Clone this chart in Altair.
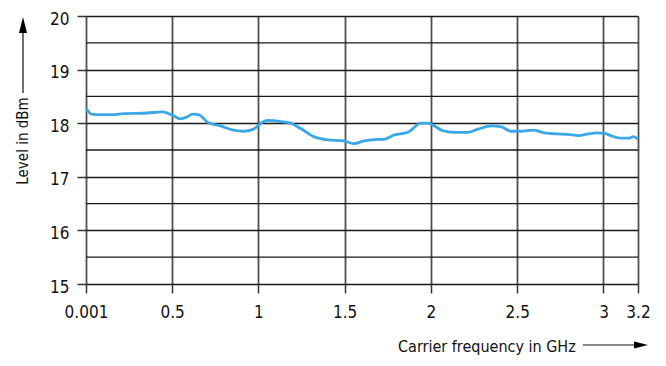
import altair as alt
import pandas as pd

# Measured data (frequency in GHz, level in dBm)
freq = [0.001, 0.034, 0.083, 0.158, 0.216, 0.356, 0.443, 0.501, 0.548, 0.588,
        0.617, 0.652, 0.710, 0.780, 0.856, 0.914, 0.972, 1.024, 1.052, 1.129,
        1.187, 1.245, 1.321, 1.401, 1.495, 1.553, 1.612, 1.691, 1.727, 1.786,
        1.866, 1.943, 1.982, 2.019, 2.069, 2.135, 2.215, 2.273, 2.350, 2.408,
        2.466, 2.524, 2.592, 2.658, 2.728, 2.796, 2.854, 2.912, 2.960, 3.007,
        3.048, 3.106, 3.145, 3.174, 3.200]
level = [18.28, 18.17, 18.16, 18.16, 18.18, 18.19, 18.21, 18.15, 18.08, 18.12,
         18.17, 18.16, 18.01, 17.95, 17.87, 17.85, 17.89, 18.02, 18.05, 18.03,
         18.00, 17.90, 17.75, 17.69, 17.67, 17.62, 17.67, 17.70, 17.70, 17.78,
         17.83, 18.00, 18.00, 17.95, 17.86, 17.83, 17.83, 17.89, 17.95, 17.93,
         17.85, 17.85, 17.87, 17.82, 17.80, 17.79, 17.77, 17.80, 17.82, 17.81,
         17.76, 17.72, 17.72, 17.75, 17.70]

x_ticks = [0.001, 0.5, 1, 1.5, 2, 2.5, 3, 3.2]
y_ticks = [15, 16, 17, 18, 19, 20]
y_half = [15.5, 16.5, 17.5, 18.5, 19.5]

x_title = "Carrier frequency in GHz"
y_title = "Level in dBm"

FONT = "Liberation Sans Narrow, DejaVu Sans Condensed, Arial Narrow, Liberation Sans, sans-serif"

df = pd.DataFrame({"f": freq, "v": level})
xs = alt.Scale(domain=[0.001, 3.2], nice=False, zero=False)
ys = alt.Scale(domain=[15, 20], nice=False, zero=False)

line = alt.Chart(df).mark_line(color="#3aa8e6", strokeWidth=2.8, interpolate="monotone").encode(
    x=alt.X("f:Q", scale=xs, axis=alt.Axis(
        values=x_ticks, title=None, grid=True, gridColor="#505050", gridWidth=1.8,
        tickSize=9, tickColor="#333333", tickWidth=1.5, domain=False,
        labelPadding=11, labelFontSize=17, labelFont=FONT, labelColor="#111111",
        labelExpr="toString(datum.value)", labelOverlap=False, labelFlush=False)),
    y=alt.Y("v:Q", scale=ys, axis=alt.Axis(
        values=y_ticks, title=None, grid=True, gridColor="#1a1a1a", gridWidth=1.3,
        tickSize=9, tickColor="#333333", tickWidth=1.5, domain=False,
        labelPadding=8, labelFontSize=17, labelBaseline="alphabetic", labelOffset=8,
        labelFont=FONT, labelColor="#111111", labelOverlap=False, labelFlush=False)),
)

minor = alt.Chart(pd.DataFrame({"y": y_half})).mark_rule(color="#1a1a1a", strokeWidth=1.3).encode(
    y=alt.Y("y:Q", scale=ys)
)

one = pd.DataFrame({"a": [0]})
ytitle = alt.Chart(one).mark_text(angle=270, fontSize=15, font=FONT, color="#111111",
                                  align="center", baseline="middle").encode(
    x=alt.value(-63), y=alt.value(125), text=alt.value(y_title))
yarrow = alt.Chart(one).mark_rule(color="#111111", strokeWidth=1.2).encode(
    x=alt.value(-63), y=alt.value(14), y2=alt.value(77))
yhead = alt.Chart(one).mark_point(shape="M-0.5,1L0,-1L0.5,1Z", filled=True, size=256,
                                  color="#000000", opacity=1).encode(
    x=alt.value(-63), y=alt.value(9))

xtitle = alt.Chart(one).mark_text(fontSize=16, font=FONT, color="#111111",
                                  align="left", baseline="alphabetic").encode(
    x=alt.value(312), y=alt.value(336), text=alt.value(x_title))
xarrow = alt.Chart(one).mark_rule(color="#111111", strokeWidth=1.2).encode(
    x=alt.value(497), x2=alt.value(552), y=alt.value(329))
xhead = alt.Chart(one).mark_point(shape="M-1,-0.5L1,0L-1,0.5Z", filled=True, size=196,
                                  color="#000000", opacity=1).encode(
    x=alt.value(555), y=alt.value(329))

edge = alt.Chart(one).mark_rule(color="#dddddd", strokeWidth=2).encode(
    x=alt.value(573), y=alt.value(-8), y2=alt.value(352))

chart = alt.layer(minor, line, ytitle, yarrow, yhead, xtitle, xarrow, xhead, edge).properties(
    width=552, height=268,
    autosize=alt.AutoSizeParams(type="none"),
    padding={"left": 78, "top": 8, "right": 20, "bottom": 80},
).configure_view(
    fill="#d6d6d6", stroke="#1a1a1a", strokeWidth=1.5
).configure(background="white")

chart.save("out.html", embed_options={"renderer": "svg", "actions": False})
